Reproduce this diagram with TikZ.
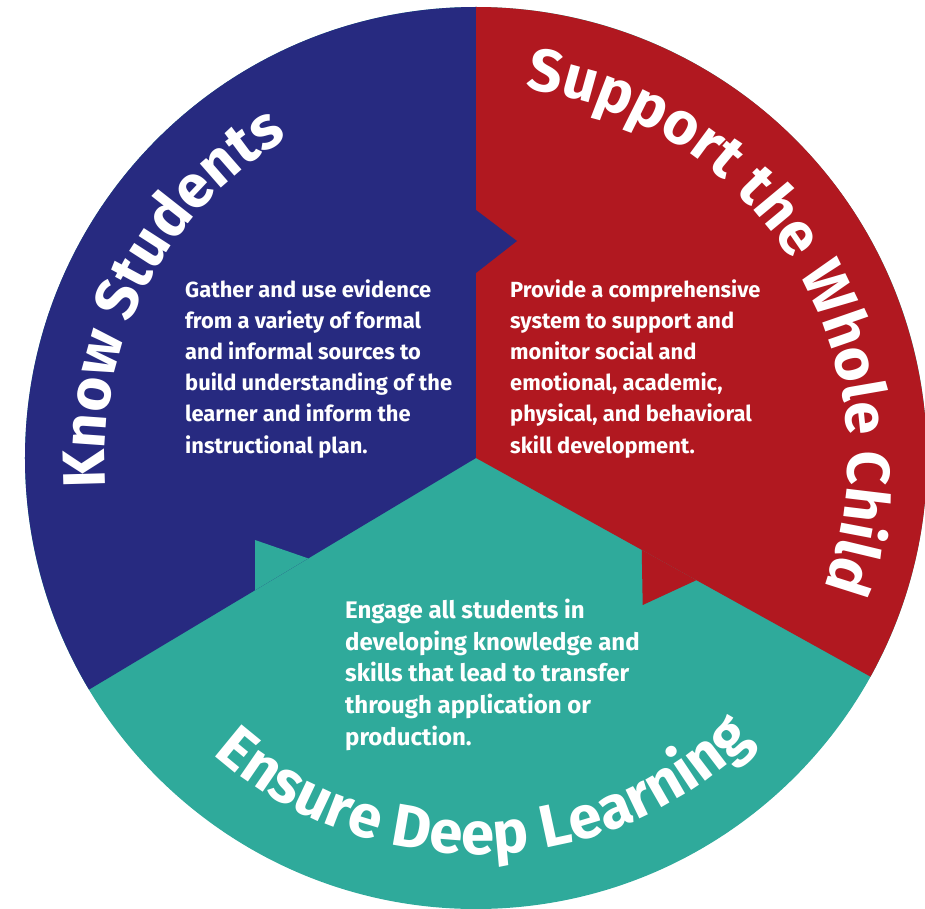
\documentclass[tikz,border=0pt]{standalone}
\usepackage{fontspec}
\setmainfont{Fira Sans}
\usetikzlibrary{decorations.text}
\definecolor{knowblue}{RGB}{39,42,128}
\definecolor{childred}{RGB}{177,24,32}
\definecolor{deepteal}{RGB}{47,170,155}
\begin{document}
\begin{tikzpicture}[x=1pt,y=1pt,
  blurb/.style={text=white,font=\fontsize{21.9}{31.2}\selectfont\bfseries,align=left,anchor=base west,inner sep=0pt},
  rim/.style={decorate,decoration={text along path,text color=white,text align=center,
    text={|\fontsize{60}{60}\selectfont\bfseries|#1}}}]
\useasboundingbox (-476,-450) rectangle (449,458);
\coordinate (O) at (0,0);
\fill[deepteal] (O) circle[radius=451];
\fill[knowblue] (O) -- (90:451) arc[start angle=90,end angle=210.9,radius=451] -- cycle;
\fill[childred] (O) -- (-29:451) arc[start angle=-29,end angle=90,radius=451] -- cycle;
\coordinate (knowtip) at (41,217);
\coordinate (deeptip) at (-221,-82);
\coordinate (childtip) at (166.7,-147);
\fill[knowblue] (90:248) -- (knowtip) -- (90:185) -- cycle;
\fill[deepteal] (210.9:195.5) -- (deeptip) -- (210.9:257.4) -- cycle;
\fill[childred] (-29:189.5) -- (childtip) -- (-29:252) -- cycle;
\node[blurb] (knowtxt) at (-291,5) {Gather and use evidence\\from a variety of formal\\and informal sources to\\build understanding of the\\learner and inform the\\instructional plan.};
\node[blurb] (childtxt) at (34,5) {Provide a comprehensive\\system to support and\\monitor social and\\emotional, academic,\\physical, and behavioral\\skill development.};
\node[blurb,font=\fontsize{24}{31.6}\selectfont\bfseries] (deeptxt) at (-131,-287) {Engage all students in\\developing knowledge and\\skills that lead to transfer\\through application or\\production.};
\path[rim=Know Students] (210:371) arc[start angle=210,end angle=95,radius=371];
\path[rim=Support the Whole Child] (100:372) arc[start angle=100,end angle=-38,radius=372];
\path[rim=Ensure Deep Learning] (-150:396) arc[start angle=-150,end angle=-27,radius=396];
\end{tikzpicture}
\end{document}
